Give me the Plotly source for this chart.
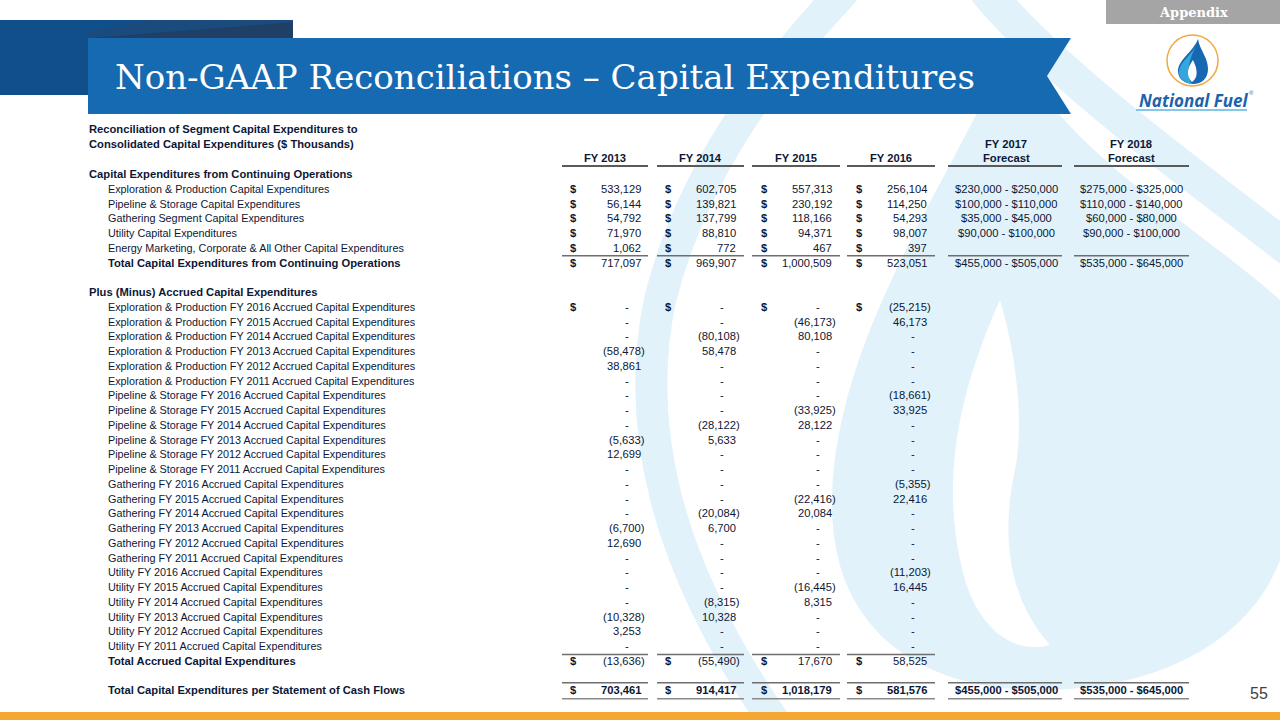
import plotly.graph_objects as go

# ---------------- data ----------------
slide_title = "Non-GAAP Reconciliations – Capital Expenditures"
tag_text = "Appendix"
logo_text = "National Fuel"
page_number = "55"

table_title = ["Reconciliation of Segment Capital Expenditures to",
               "Consolidated Capital Expenditures ($ Thousands)"]
hist_years = ["FY 2013", "FY 2014", "FY 2015", "FY 2016"]
forecast_years = ["FY 2017", "FY 2018"]
forecast_sub = "Forecast"

section1 = "Capital Expenditures from Continuing Operations"
cont_labels = [
    "Exploration & Production Capital Expenditures",
    "Pipeline & Storage Capital Expenditures",
    "Gathering Segment Capital Expenditures",
    "Utility Capital Expenditures",
    "Energy Marketing, Corporate & All Other Capital Expenditures",
]
cont_fy2013 = [533129, 56144, 54792, 71970, 1062]
cont_fy2014 = [602705, 139821, 137799, 88810, 772]
cont_fy2015 = [557313, 230192, 118166, 94371, 467]
cont_fy2016 = [256104, 114250, 54293, 98007, 397]
cont_fy2017 = ["$230,000 - $250,000", "$100,000 - $110,000", "$35,000 - $45,000",
               "$90,000 - $100,000", ""]
cont_fy2018 = ["$275,000 - $325,000", "$110,000 - $140,000", "$60,000 - $80,000",
               "$90,000 - $100,000", ""]
cont_total_label = "Total Capital Expenditures from Continuing Operations"
cont_total = [717097, 969907, 1000509, 523051]
cont_total_fc = ["$455,000 - $505,000", "$535,000 - $645,000"]

section2 = "Plus (Minus) Accrued Capital Expenditures"
accr_labels = [
    "Exploration & Production FY 2016 Accrued Capital Expenditures",
    "Exploration & Production FY 2015 Accrued Capital Expenditures",
    "Exploration & Production FY 2014 Accrued Capital Expenditures",
    "Exploration & Production FY 2013 Accrued Capital Expenditures",
    "Exploration & Production FY 2012 Accrued Capital Expenditures",
    "Exploration & Production FY 2011 Accrued Capital Expenditures",
    "Pipeline & Storage FY 2016 Accrued Capital Expenditures",
    "Pipeline & Storage FY 2015 Accrued Capital Expenditures",
    "Pipeline & Storage FY 2014 Accrued Capital Expenditures",
    "Pipeline & Storage FY 2013 Accrued Capital Expenditures",
    "Pipeline & Storage FY 2012 Accrued Capital Expenditures",
    "Pipeline & Storage FY 2011 Accrued Capital Expenditures",
    "Gathering FY 2016 Accrued Capital Expenditures",
    "Gathering FY 2015 Accrued Capital Expenditures",
    "Gathering FY 2014 Accrued Capital Expenditures",
    "Gathering FY 2013 Accrued Capital Expenditures",
    "Gathering FY 2012 Accrued Capital Expenditures",
    "Gathering FY 2011 Accrued Capital Expenditures",
    "Utility FY 2016 Accrued Capital Expenditures",
    "Utility FY 2015 Accrued Capital Expenditures",
    "Utility FY 2014 Accrued Capital Expenditures",
    "Utility FY 2013 Accrued Capital Expenditures",
    "Utility FY 2012 Accrued Capital Expenditures",
    "Utility FY 2011 Accrued Capital Expenditures",
]
accr_fy2013 = [0, 0, 0, -58478, 38861, 0, 0, 0, 0, -5633, 12699, 0,
               0, 0, 0, -6700, 12690, 0, 0, 0, 0, -10328, 3253, 0]
accr_fy2014 = [0, 0, -80108, 58478, 0, 0, 0, 0, -28122, 5633, 0, 0,
               0, 0, -20084, 6700, 0, 0, 0, 0, -8315, 10328, 0, 0]
accr_fy2015 = [0, -46173, 80108, 0, 0, 0, 0, -33925, 28122, 0, 0, 0,
               0, -22416, 20084, 0, 0, 0, 0, -16445, 8315, 0, 0, 0]
accr_fy2016 = [-25215, 46173, 0, 0, 0, 0, -18661, 33925, 0, 0, 0, 0,
               -5355, 22416, 0, 0, 0, 0, -11203, 16445, 0, 0, 0, 0]
accr_total_label = "Total Accrued Capital Expenditures"
accr_total = [-13636, -55490, 17670, 58525]

final_label = "Total Capital Expenditures per Statement of Cash Flows"
final_total = [703461, 914417, 1018179, 581576]
final_fc = ["$455,000 - $505,000", "$535,000 - $645,000"]

# ---------------- style / layout constants ----------------
NAVY = "#0c1736"
TFONT = "Liberation Sans, Arial, sans-serif"
TSIZE = 11.2
LSIZE = 10.8
LIGHT = "#e1f2fa"

ROW0_Y = 174.0
ROW_DY = 14.75
LABEL_X_HDR = 88
LABEL_X_ITEM = 107
NUM_RIGHT = [642, 737, 833, 928]
DOLLAR_X = [573, 668, 764, 859]
FC_CENTER = [1006, 1131]
HIST_SPAN = [(562, 648), (657, 744), (752, 840), (847, 935)]
FC_SPAN = [(948, 1062), (1074, 1189)]

fig = go.Figure()
fig.add_trace(go.Scatter(x=[0, 1280], y=[0, 720], mode="markers",
                         marker=dict(opacity=0), hoverinfo="skip"))

shapes = []
ann = []


def rect(x0, y0, x1, y1, color, layer="below"):
    shapes.append(dict(type="rect", xref="x", yref="y", x0=x0, y0=y0, x1=x1, y1=y1,
                       fillcolor=color, line=dict(width=0), layer=layer))


def path(d, fill=None, line_color=None, lw=0, layer="below"):
    s = dict(type="path", xref="x", yref="y", path=d, layer=layer,
             line=dict(width=lw, color=line_color or "rgba(0,0,0,0)"))
    if fill:
        s["fillcolor"] = fill
    shapes.append(s)


def hline(x0, x1, y, color="#6e6e6e", w=1.5):
    shapes.append(dict(type="line", xref="x", yref="y", x0=x0, x1=x1, y0=y, y1=y,
                       line=dict(color=color, width=w), layer="above"))


def text(x, y, s, anchor="left", size=TSIZE, color=NAVY, bold=False, family=TFONT,
         italic=False):
    if bold:
        s = "<b>" + s + "</b>"
    if italic:
        s = "<i>" + s + "</i>"
    ann.append(dict(x=x, y=y, xref="x", yref="y", text=s, showarrow=False,
                    xanchor=anchor, yanchor="middle",
                    font=dict(family=family, size=size, color=color),
                    borderpad=0))


# ---------------- background watermark ----------------
# left arc of the large ring
path("M 845,-10 C 760,80 690,180 660,300 C 635,420 660,560 780,730",
     line_color=LIGHT, lw=32)
# right arc
path("M 985,-10 C 1060,80 1200,180 1290,250", line_color=LIGHT, lw=34)
# large drop
path("M 1010,40 C 960,170 835,330 832,500 C 830,630 920,690 1040,690 "
     "C 1160,690 1250,640 1280,560 L 1280,300 C 1190,220 1060,150 1010,40 Z", fill=LIGHT)
path("M 1000,300 C 955,400 940,490 965,580 C 980,630 1015,655 1050,645 "
     "C 1010,600 1000,540 1015,470 C 1025,420 1015,350 1000,300 Z", fill="white")

# ---------------- header ----------------
rect(0, 20, 293, 95, "#114f8b")
path("M 88,38 L 293,22 L 293,38 Z", fill="#203f66")
path("M 150,20 L 293,20 L 293,22 L 88,38 L 88,32 Z", fill="#1b4a7c")
path("M 88,38 L 1071,38 L 1047,76 L 1071,114 L 88,114 Z", fill="#166ab2")
text(114, 77, slide_title, size=34, color="white", family="DejaVu Serif")

rect(1106, 0, 1280, 24, "#a5a5a5")
text(1193, 12, tag_text, anchor="center", size=13, color="white", bold=True,
     family="DejaVu Serif")

# logo
shapes.append(dict(type="circle", xref="x", yref="y", x0=1167, x1=1218, y0=35, y1=86,
                   line=dict(color="#f0a843", width=1.5), fillcolor="white"))
path("M 1198,39 C 1193,52 1178,60 1178,71 C 1178,79 1185,84 1193,84 "
     "C 1202,84 1208,78 1208,69 C 1208,57 1200,51 1198,39 Z", fill="#1767b1", layer="above")
path("M 1196,46 C 1189,57 1179,63 1179,72 C 1179,79 1185,83 1192,84 "
     "C 1186,76 1188,61 1196,46 Z", fill="#33a6de", layer="above")
path("M 1193,60 C 1187,68 1186,76 1192,82 C 1198,78 1198,70 1193,60 Z",
     fill="white", layer="above")
text(1193, 100, logo_text, anchor="center", size=17, color="#1b63ad", bold=True,
     italic=True, family="Open Sans, Liberation Sans")
text(1248, 93, "®", anchor="left", size=6, color="#1b63ad")
hline(1136, 1247, 110, color="#5ab4e5", w=1.5)

# bottom bar + page number
rect(0, 712, 1280, 720, "#f5a733", layer="above")
text(1259, 693, page_number, anchor="center", size=16, color="#404040",
     family="Liberation Sans, Arial")

# ---------------- table ----------------
def row_y(i):
    return ROW0_Y + i * ROW_DY


def fmt(v):
    if v == 0:
        return "-"
    if v < 0:
        return "({:,})".format(-v)
    return "{:,}".format(v)


def put_num(col, y, v, dollar=False, bold=False):
    s = fmt(v)
    if v == 0:
        xr = NUM_RIGHT[col] - 12
    elif v < 0:
        xr = NUM_RIGHT[col] + 4
    else:
        xr = NUM_RIGHT[col]
    text(xr, y, s, anchor="right", bold=bold)
    if dollar:
        text(DOLLAR_X[col], y, "$", anchor="center", bold=True)


# titles / column headers
text(LABEL_X_HDR, 129, table_title[0], bold=True)
text(LABEL_X_HDR, 144, table_title[1], bold=True)
for c, yr in enumerate(hist_years):
    text((HIST_SPAN[c][0] + HIST_SPAN[c][1]) / 2, 158, yr, anchor="center", bold=True)
for c, yr in enumerate(forecast_years):
    text(FC_CENTER[c], 144, yr, anchor="center", bold=True)
    text(FC_CENTER[c], 158, forecast_sub, anchor="center", bold=True)
for a, b in HIST_SPAN + FC_SPAN:
    hline(a, b, 166, color="#5a5a5a", w=2)

# continuing operations
text(LABEL_X_HDR, row_y(0), section1, bold=True)
hist_cont = [cont_fy2013, cont_fy2014, cont_fy2015, cont_fy2016]
fc_cont = [cont_fy2017, cont_fy2018]
for i, lab in enumerate(cont_labels):
    y = row_y(1 + i)
    text(LABEL_X_ITEM, y, lab, size=LSIZE)
    for c in range(4):
        put_num(c, y, hist_cont[c][i], dollar=True)
    for c in range(2):
        if fc_cont[c][i]:
            text(FC_CENTER[c], y, fc_cont[c][i], anchor="center")
y_line = (row_y(5) + row_y(6)) / 2 + 0.5
for a, b in HIST_SPAN + FC_SPAN:
    hline(a, b, y_line)
y = row_y(6)
text(LABEL_X_ITEM, y, cont_total_label, bold=True)
for c in range(4):
    put_num(c, y, cont_total[c], dollar=True)
for c in range(2):
    text(FC_CENTER[c], y, cont_total_fc[c], anchor="center")

# accrued
text(LABEL_X_HDR, row_y(8), section2, bold=True)
hist_accr = [accr_fy2013, accr_fy2014, accr_fy2015, accr_fy2016]
for i, lab in enumerate(accr_labels):
    y = row_y(9 + i)
    text(LABEL_X_ITEM, y, lab, size=LSIZE)
    for c in range(4):
        put_num(c, y, hist_accr[c][i], dollar=(i == 0))
n_acc = len(accr_labels)
y_line = (row_y(8 + n_acc) + row_y(9 + n_acc)) / 2 + 1
for a, b in HIST_SPAN:
    hline(a, b, y_line)
y = row_y(9 + n_acc)
text(LABEL_X_ITEM, y, accr_total_label, bold=True)
for c in range(4):
    put_num(c, y, accr_total[c], dollar=True)

# final total
y = row_y(11 + n_acc)
text(LABEL_X_ITEM, y, final_label, bold=True)
for c in range(4):
    put_num(c, y, final_total[c], dollar=True, bold=True)
for c in range(2):
    text(FC_CENTER[c], y, final_fc[c], anchor="center", bold=True)
for a, b in HIST_SPAN + FC_SPAN:
    hline(a, b, y - 7.5)
    hline(a, b, y + 8.5, color="#8a8a8a", w=1.5)

fig.update_layout(
    width=1280, height=720, margin=dict(l=0, r=0, t=0, b=0),
    paper_bgcolor="white", plot_bgcolor="white", showlegend=False,
    xaxis=dict(range=[0, 1280], visible=False, fixedrange=True),
    yaxis=dict(range=[720, 0], visible=False, fixedrange=True),
    shapes=shapes, annotations=ann,
)
fig.write_html("out.html", config={"displayModeBar": False},
               post_script="document.body.style.margin='0';document.body.style.overflow='hidden';")
